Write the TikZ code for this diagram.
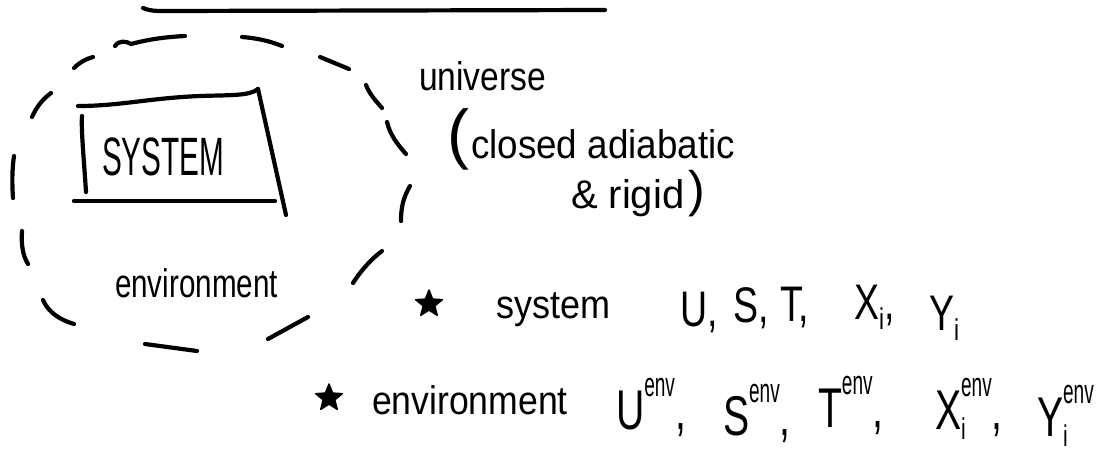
\documentclass[tikz,border=0pt]{standalone}
\usepackage{fontspec}
\setmainfont{Liberation Sans}
\usetikzlibrary{shapes.geometric}
% horizontal squeeze of a piece of text
\newcommand\hx[2]{\scalebox{#1}[1]{#2}}
% raised and lowered indices in the text font
\newcommand\hsup[1]{\raisebox{33pt}{\fontsize{34}{34}\selectfont\hx{.8}{#1}}}
\newcommand\hsub[1]{\raisebox{-10pt}{\fontsize{30}{30}\selectfont #1}}
\begin{document}
\begin{tikzpicture}[x=1pt, y=-1pt,
  line width=4.2pt, line cap=round, line join=round,
  hand/.style={inner sep=0pt, outer sep=0pt, anchor=base west,
    font=\fontsize{40}{48}\selectfont},
  caps/.style={hand, font=\fontsize{50}{60}\selectfont},
  bigcaps/.style={hand, font=\fontsize{56}{64}\selectfont},
  bullet/.style={star, star points=5, star point ratio=2.3, fill=black,
    draw=black, line width=1.5pt, minimum size=28pt, inner sep=0pt}]
\useasboundingbox (0,0) rectangle (1116,458);

% rule across the top
\draw (143,8) .. controls (148,10) and (152,11) .. (162,11) -- (605,10);

% dashed boundary of the universe, stroke by stroke
\draw (115,46) .. controls (119,40) and (126,41) .. (131,44)
      .. controls (150,39) and (166,37) .. (185,36);
\draw (242,37) .. controls (256,38) and (270,41) .. (282,46);
\draw (320,57) -- (349,69);
\draw (366,85) .. controls (370,95) and (376,101) .. (382,108);
\draw (387,122) .. controls (390,135) and (398,145) .. (406,154);
\draw (410,186) .. controls (403,198) and (401,208) .. (401,221);
\draw (382,251) .. controls (370,260) and (360,272) .. (353,283);
\draw (308,317) -- (268,339);
\draw (197,351) -- (145,344);
\draw (43,300) .. controls (48,312) and (60,320) .. (74,324);
\draw (22,231) .. controls (21,245) and (23,256) .. (28,264);
\draw (13,198) .. controls (12,183) and (12,170) .. (14,156);
\draw (32,117) .. controls (37,106) and (43,99) .. (51,93);
\draw (74,68) .. controls (80,62) and (86,59) .. (93,57);

% the system box
\draw (78,106) .. controls (120,106) and (150,98) .. (200,96)
      .. controls (230,95) and (250,96) .. (258,89);
\draw (82,116) .. controls (81,130) and (84,160) .. (86,192);
\draw (258,89) -- (286,215);
\draw (74,201) -- (275,201);
\node[caps, font=\fontsize{54}{60}\selectfont] (system) at (102,175) {\hx{.55}{SYSTEM}};
\node[hand] (envlabel) at (115,297) {\hx{.74}{environment}};

% description of the universe
\node[hand] (universe) at (419,90) {\hx{.84}{universe}};
\node[hand, font=\fontsize{66}{70}\selectfont] (lparen) at (447,156) {(};
\node[hand] (closed) at (471,158) {\hx{.92}{closed adiabatic}};
\node[hand] (rigid) at (571,208) {\& rigid};
\node[hand, font=\fontsize{50}{56}\selectfont] (rparen) at (688,206) {)};

% state variables of the system
\node[bullet] (star1) at (429,304) {};
\node[hand] (syslabel) at (496,318) {\hx{.9}{system}};
\node[caps] (sU) at (680,326) {\hx{.75}{U,}};
\node[caps] (sS) at (733,322) {\hx{.75}{S,}};
\node[caps] (sT) at (780,321) {\hx{.75}{T,}};
\node[caps] (sX) at (854,319) {\hx{.75}{X\hsub{i},}};
\node[caps] (sY) at (929,330) {\hx{.75}{Y\hsub{i}}};

% state variables of the environment
\node[bullet] (star2) at (329,398) {};
\node[hand] (envtitle) at (372,414) {\hx{.89}{environment}};
\node[bigcaps] (eU) at (616,429) {\hx{.7}{U\hsup{env},}};
\node[bigcaps] (eS) at (723,435) {\hx{.7}{S\hsup{env},}};
\node[bigcaps] (eT) at (818,427) {\hx{.7}{T\hsup{env},}};
\node[bigcaps] (eX) at (935,429) {\hx{.7}{X\rlap{\hsub{i}}\hsup{env},}};
\node[bigcaps] (eY) at (1037,436) {\hx{.7}{Y\rlap{\hsub{i}}\hsup{env}}};
\end{tikzpicture}
\end{document}
